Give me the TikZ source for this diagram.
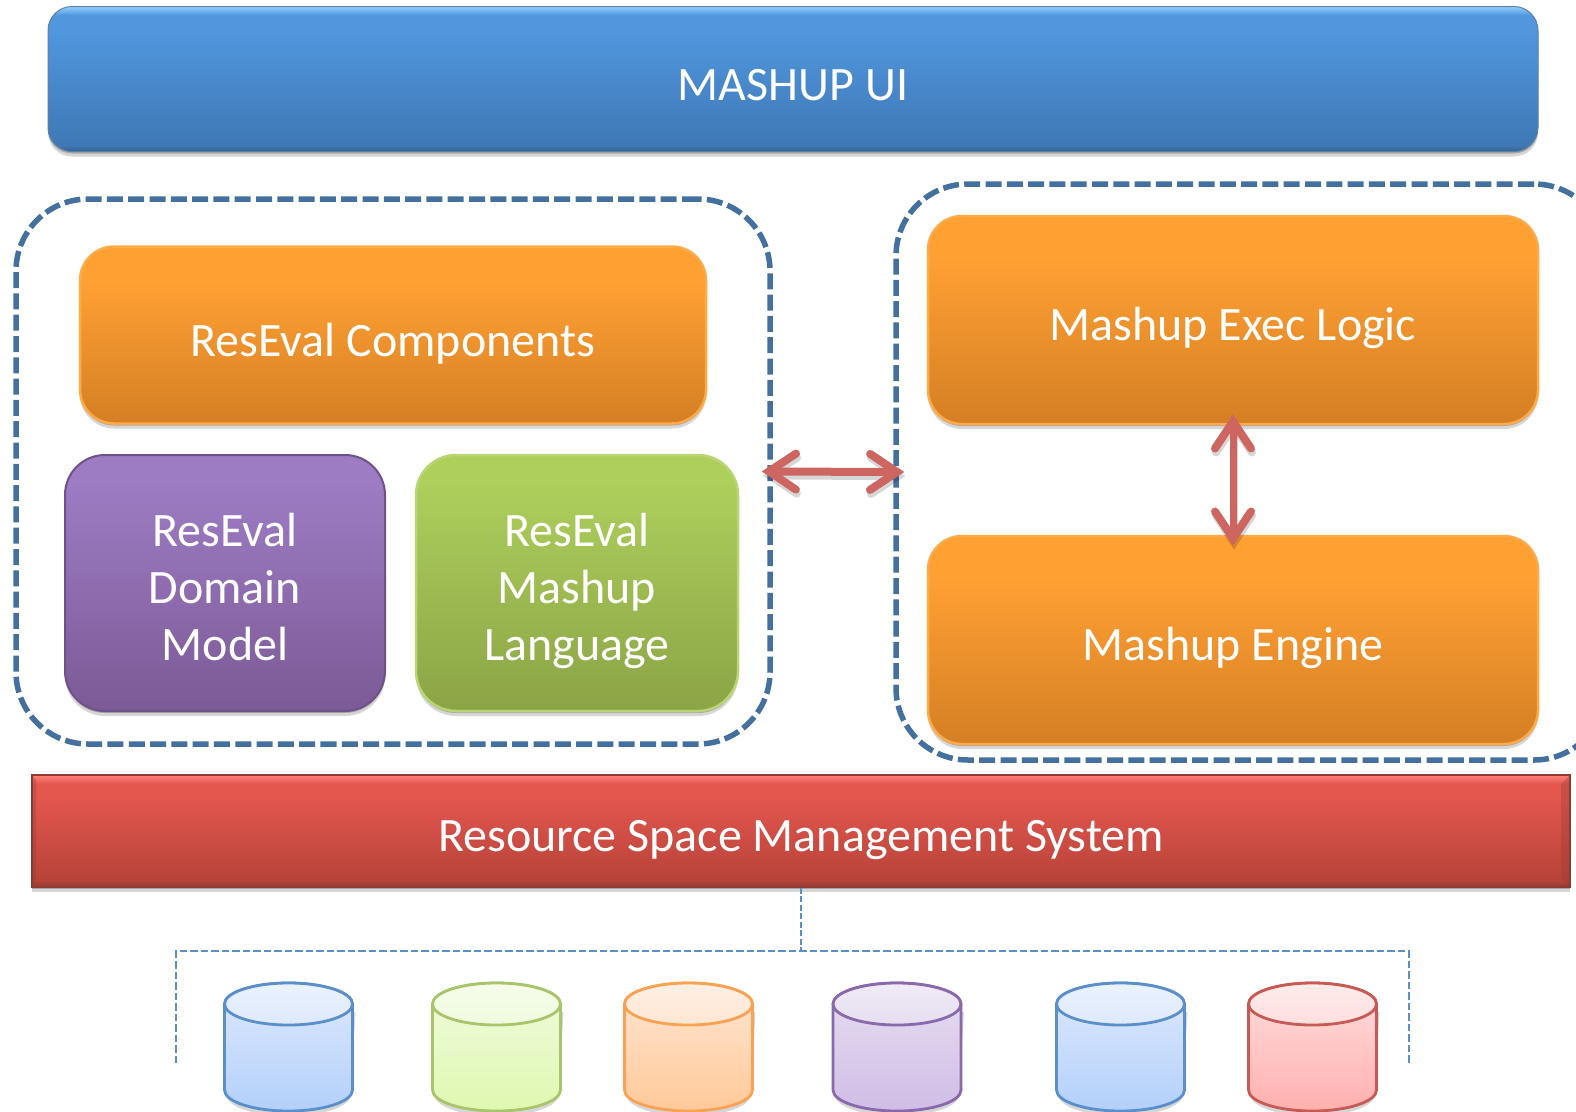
\documentclass[tikz,border=0pt]{standalone}
\usepackage{fontspec}
\setmainfont{Carlito}
\usetikzlibrary{shadows,arrows.meta,shapes.geometric}
\definecolor{dashblue}{HTML}{44709F}
\definecolor{thinblue}{HTML}{5B8FCB}
\definecolor{arrowred}{HTML}{CD6660}
\definecolor{b1}{HTML}{35618F}\definecolor{b2}{HTML}{3F78B5}\definecolor{b3}{HTML}{5097DE}\definecolor{b4}{HTML}{93CFFF}
\definecolor{o1}{HTML}{D47F24}\definecolor{o2}{HTML}{FFA033}
\definecolor{p1}{HTML}{7C5A96}\definecolor{p2}{HTML}{9E7CC4}
\definecolor{g1}{HTML}{8BA446}\definecolor{g2}{HTML}{AECF5C}
\definecolor{r1}{HTML}{8F3A32}\definecolor{r2}{HTML}{B84339}\definecolor{r3}{HTML}{E3574F}\definecolor{r4}{HTML}{FF817A}
\definecolor{cb1}{HTML}{B3D0FA}\definecolor{cb2}{HTML}{DEE9FD}
\definecolor{cg0}{HTML}{A9C46B}\definecolor{cg1}{HTML}{DFF8B0}\definecolor{cg2}{HTML}{EFFBDD}
\definecolor{co0}{HTML}{FAA251}\definecolor{co1}{HTML}{FFC999}\definecolor{co2}{HTML}{FFE6D3}
\definecolor{cp0}{HTML}{8A68AC}\definecolor{cp1}{HTML}{D0BDE6}\definecolor{cp2}{HTML}{E6DEF0}
\definecolor{cr0}{HTML}{C85A55}\definecolor{cr1}{HTML}{FFB0AE}\definecolor{cr2}{HTML}{FFDEDE}
\pgfdeclareverticalshading{barblue}{100bp}{color(0bp)=(b1);color(25bp)=(b1);color(27bp)=(b2);color(67bp)=(b3);color(72bp)=(b3);color(75bp)=(b4);color(100bp)=(b4)}
\pgfdeclareverticalshading{barorange}{100bp}{color(0bp)=(o1);color(25bp)=(o1);color(65bp)=(o2);color(75bp)=(o2);color(100bp)=(o2)}
\pgfdeclareverticalshading{barpurple}{100bp}{color(0bp)=(p1);color(25bp)=(p1);color(70bp)=(p2);color(75bp)=(p2);color(100bp)=(p2)}
\pgfdeclareverticalshading{bargreen}{100bp}{color(0bp)=(g1);color(25bp)=(g1);color(70bp)=(g2);color(75bp)=(g2);color(100bp)=(g2)}
\pgfdeclareverticalshading{barred}{100bp}{color(0bp)=(r1);color(25bp)=(r1);color(28bp)=(r2);color(66bp)=(r3);color(71bp)=(r3);color(75bp)=(r4);color(100bp)=(r4)}
\newcommand{\lowtext}[2][-9pt]{\raisebox{#1}[\height][\depth]{#2}}
\newcommand{\threelines}[3]{\lowtext{\begin{tabular}{@{}c@{}}\strut #1\\\strut #2\\\strut #3\end{tabular}}}
\tikzset{
  softshadow/.style={
    general shadow={shadow yshift=-2pt,opacity=.22,fill=black},
    general shadow={shadow yshift=-5pt,opacity=.16,fill=black}},
  boxbase/.style={softshadow,rectangle,rounded corners=#1,text=white,align=center,inner sep=0pt,
    font=\fontsize{48}{57}\selectfont},
  bluebox/.style={boxbase=24pt,shading=barblue,draw=b1!80,line width=1pt},
  orangebox/.style={boxbase=34pt,shading=barorange,draw=o2!90!white,line width=2.5pt},
  purplebox/.style={boxbase=40pt,shading=barpurple,draw=p1!90!black,line width=2pt},
  greenbox/.style={boxbase=40pt,shading=bargreen,draw=g2!85!white,line width=2.5pt},
  redbox/.style={softshadow,rectangle,text=white,align=center,inner sep=0pt,shading=barred,draw=r1,line width=1.5pt,
    font=\fontsize{48}{57}\selectfont},
  groupbox/.style={rectangle,rounded corners=72pt,draw=dashblue,line width=5.5pt,dash pattern=on 16pt off 5.3pt,inner sep=0pt},
  thinlink/.style={draw=thinblue,line width=2.2pt,dash pattern=on 7.5pt off 3pt},
  stemlink/.style={draw=thinblue,line width=1.5pt,dash pattern=on 6pt off 2.5pt},
  bothbarbs/.style={{Straight Barb[length=27pt,width=36pt,line width=8pt,line cap=round]}-{Straight Barb[length=27pt,width=36pt,line width=8pt,line cap=round]}},
  twohead/.style={draw=arrowred,line width=#1,bothbarbs},
  twoheadshadow/.style={draw=black,opacity=.16,line width=#1,bothbarbs,transform canvas={xshift=1pt,yshift=-4pt}},
  pics/store/.style n args={3}{code={
    \path[fill=black,opacity=.16] (-62,8) -- (-62,91) arc[x radius=62,y radius=21,start angle=180,end angle=0] -- (67,8) -- cycle;
    \path[top color=#3,bottom color=#2,draw=#1,line width=2.8pt]
       (-64,0) -- (-64,86) arc[x radius=64,y radius=21,start angle=180,end angle=0] -- (64,0) arc[x radius=64,y radius=21,start angle=0,end angle=-180] -- cycle;
    \path[top color=#3!60!white,bottom color=#3,draw=#1,line width=2.8pt] (0,0) ellipse[x radius=64,y radius=21];
  }}
}
\begin{document}
\begin{tikzpicture}[x=1pt,y=-1pt]
\useasboundingbox (0,0) rectangle (1576,1111);
\clip (0,0) rectangle (1576,1111);
% group boxes
\node[groupbox,minimum width=754pt,minimum height=545pt] (leftgroup) at (393,471.5) {};
\node[groupbox,minimum width=710pt,minimum height=576pt] (rightgroup) at (1251,472) {};
% bars and boxes
\node[bluebox,minimum width=1490pt,minimum height=145pt] (ui) at (793,79) {\lowtext[-6pt]{MASHUP UI}};
\node[orangebox,minimum width=626pt,minimum height=177pt] (comp) at (393,335) {\lowtext{ResEval Components}};
\node[purplebox,minimum width=320pt,minimum height=256pt] (domain) at (225,583) {\threelines{ResEval}{Domain}{Model}};
\node[greenbox,minimum width=322pt,minimum height=256pt] (lang) at (577,583) {\threelines{ResEval}{Mashup}{Language}};
\node[orangebox,minimum width=610pt,minimum height=208pt] (exec) at (1233,320) {\lowtext[-8pt]{Mashup Exec Logic}};
\node[orangebox,minimum width=610pt,minimum height=208pt] (engine) at (1233,640) {\lowtext[-8pt]{Mashup Engine}};
\node[redbox,minimum width=1538pt,minimum height=112pt] (rsms) at (801,831) {\lowtext{Resource Space Management System}};
% bevels of the red bar
\fill[r1,opacity=.3] (1570,775) -- (1570,887) -- (1561,878) -- (1561,784) -- cycle;
\fill[r1,opacity=.3] (32,775) -- (32,887) -- (36,882) -- (36,780) -- cycle;
% bracket to stores
\coordinate (brl) at (176,1063);
\coordinate (brtl) at (176,951);
\coordinate (brtr) at (1409,951);
\coordinate (brr) at (1409,1063);
\coordinate (brm) at (801,951);
\draw[thinlink] (brl) -- (brtl) -- (brtr) -- (brr);
\draw[stemlink] (rsms.south) -- (brm);
% stores
\pic at (288.5,1004) {store={thinblue}{cb1}{cb2}};
\pic at (496.5,1004) {store={cg0}{cg1}{cg2}};
\pic at (688.5,1004) {store={co0}{co1}{co2}};
\pic at (897,1004) {store={cp0}{cp1}{cp2}};
\pic at (1120.5,1004) {store={thinblue}{cb1}{cb2}};
\pic at (1312.5,1004) {store={cr0}{cr1}{cr2}};
% arrows
\draw[twoheadshadow=8pt,shorten <=-11pt,shorten >=-11pt] (leftgroup.east) -- (rightgroup.west);
\draw[twoheadshadow=7pt,shorten <=-11pt,shorten >=-11pt] (exec.south) -- (engine.north);
\draw[twohead=8pt,shorten <=-11pt,shorten >=-11pt] (leftgroup.east) -- (rightgroup.west);
\draw[twohead=7pt,shorten <=-11pt,shorten >=-11pt] (exec.south) -- (engine.north);
\end{tikzpicture}
\end{document}
